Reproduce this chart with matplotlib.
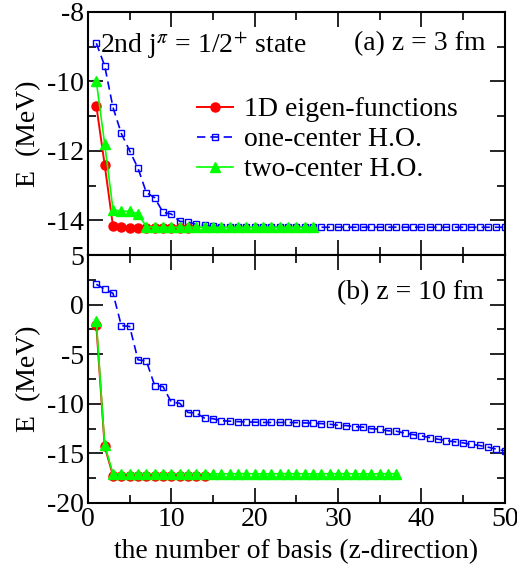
import matplotlib

matplotlib.use("Agg")
import matplotlib.pyplot as plt
from matplotlib.ticker import MultipleLocator

plt.rcParams["font.family"] = ["Liberation Serif", "DejaVu Serif"]
plt.rcParams["mathtext.fontset"] = "stix"
plt.rcParams["axes.unicode_minus"] = False

# --- panel (a): z = 3 fm ---
a_eig_n = list(range(1, 13))
a_eig_e = [-10.7, -12.4, -14.17, -14.2, -14.22, -14.22, -14.22, -14.22, -14.22, -14.22,
           -14.22, -14.22]

a_one_n = list(range(1, 51))
a_one_e = [-8.9, -9.55, -10.75, -11.5, -12.0, -12.5, -13.2, -13.35, -13.77, -13.82,
           -14.03, -14.05, -14.12, -14.15, -14.17, -14.18, -14.19, -14.2, -14.2, -14.2,
           -14.2, -14.2, -14.2, -14.2, -14.2, -14.2, -14.2, -14.2, -14.2, -14.2,
           -14.2, -14.2, -14.2, -14.2, -14.2, -14.2, -14.2, -14.2, -14.2, -14.2,
           -14.2, -14.2, -14.2, -14.2, -14.2, -14.2, -14.2, -14.2, -14.2, -14.2]

a_two_n = list(range(1, 28))
a_two_e = [-10.0, -11.8, -13.69, -13.74, -13.74, -13.81, -14.18, -14.2, -14.2, -14.2,
           -14.2, -14.2, -14.2, -14.2, -14.2, -14.2, -14.2, -14.2, -14.2, -14.2,
           -14.2, -14.2, -14.2, -14.2, -14.2, -14.2, -14.2]

# --- panel (b): z = 10 fm ---
b_eig_n = list(range(1, 15))
b_eig_e = [-2.1, -14.3, -17.25, -17.25, -17.25, -17.25, -17.25, -17.25, -17.25, -17.25,
           -17.25, -17.25, -17.25, -17.25]

b_one_n = list(range(1, 51))
b_one_e = [2.05, 1.55, 1.14, -2.12, -2.2, -5.57, -5.67, -8.16, -8.26, -9.84,
           -9.94, -10.88, -10.94, -11.45, -11.5, -11.7, -11.75, -11.8, -11.82, -11.85,
           -11.88, -11.88, -11.88, -11.88, -11.9, -11.93, -11.95, -12.0, -12.06, -12.16,
           -12.2, -12.3, -12.35, -12.52, -12.55, -12.72, -12.76, -12.96, -13.1, -13.23,
           -13.4, -13.57, -13.7, -13.83, -13.94, -14.1, -14.2, -14.37, -14.57, -14.75]

b_two_n = list(range(1, 38))
b_two_e = [-1.7, -14.2, -17.05, -17.05, -17.05, -17.05, -17.05, -17.05, -17.05, -17.05,
           -17.05, -17.05, -17.05, -17.05, -17.05, -17.05, -17.05, -17.05, -17.05, -17.05,
           -17.05, -17.05, -17.05, -17.05, -17.05, -17.05, -17.05, -17.05, -17.05, -17.05,
           -17.05, -17.05, -17.05, -17.05, -17.05, -17.05, -17.05]

labels = ["1D eigen-functions", "one-center H.O.", "two-center H.O."]

FS = 20

fig = plt.figure(figsize=(5.17, 5.71), dpi=100)
ax_a = fig.add_axes([0.1702, 0.5534, 0.806, 0.4256])
ax_b = fig.add_axes([0.1702, 0.1191, 0.806, 0.4343])


def draw(ax, eig, one, two):
    ax.plot(*one, color="#0000ff", ls=(0, (5, 3)), lw=1.2, marker="s", ms=5,
            mfc="none", mec="#0000ff", mew=1.0, label=labels[1])
    ax.plot(*eig, color="#ff0000", lw=1.4, marker="o", ms=6.5, mec="#ff0000",
            label=labels[0])
    ax.plot(*two, color="#00ff00", lw=1.2, marker="^", ms=6.5, mec="#00ff00",
            label=labels[2])
    ax.set_xlim(0, 50)
    ax.xaxis.set_major_locator(MultipleLocator(10))
    ax.xaxis.set_minor_locator(MultipleLocator(5))
    ax.tick_params(which="both", direction="in", top=True, right=True,
                   labelsize=FS, pad=3)
    ax.tick_params(which="major", length=11, width=1.2)
    ax.tick_params(which="minor", length=5.5, width=1.2)
    for s in ax.spines.values():
        s.set_linewidth(1.5)
    ax.set_ylabel("E  (MeV)", fontsize=FS, labelpad=4)


draw(ax_a, (a_eig_n, a_eig_e), (a_one_n, a_one_e), (a_two_n, a_two_e))
draw(ax_b, (b_eig_n, b_eig_e), (b_one_n, b_one_e), (b_two_n, b_two_e))

ax_a.set_ylim(-15, -8)
ax_a.yaxis.set_minor_locator(MultipleLocator(1))
ax_a.set_yticks([-8, -10, -12, -14])
ax_a.tick_params(labelbottom=False)

ax_b.set_ylim(-20, 5)
ax_b.yaxis.set_major_locator(MultipleLocator(5))
ax_b.yaxis.set_minor_locator(MultipleLocator(2.5))
ax_b.set_xlabel("the number of basis (z-direction)", fontsize=FS, labelpad=5)

ax_a.text(0.028, 0.864, r"2nd j$^{\pi}$ = 1/2$^{+}$ state", transform=ax_a.transAxes,
          fontsize=FS, va="center", ha="left")
ax_a.text(0.955, 0.87, "(a) z = 3 fm", transform=ax_a.transAxes,
          fontsize=FS, va="center", ha="right")
ax_b.text(0.95, 0.85, "(b) z = 10 fm", transform=ax_b.transAxes,
          fontsize=FS, va="center", ha="right")

h, l = ax_a.get_legend_handles_labels()
order = [1, 0, 2]
ax_a.legend([h[i] for i in order], [l[i] for i in order], loc="upper left",
            bbox_to_anchor=(0.262, 0.65), frameon=False, fontsize=FS,
            handlelength=1.3, handletextpad=0.4, labelspacing=0.16,
            borderpad=0, borderaxespad=0)

fig.savefig("out.png", dpi=100)
